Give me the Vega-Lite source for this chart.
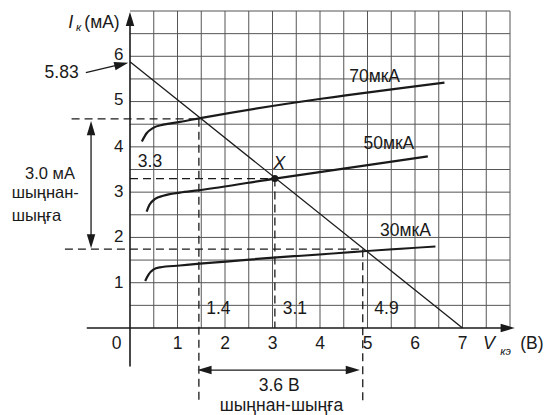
{
  "$schema": "https://vega.github.io/schema/vega-lite/v6.json",
  "width": 380,
  "height": 317,
  "autosize": "none",
  "padding": {"left": 130, "top": 11, "right": 36, "bottom": 87},
  "background": "white",
  "config": {"view": {"stroke": null}, "axis": {"disable": true}, "text": {"font": "Liberation Sans", "color": "#1a1a1a"}},
  "datasets": {
    "gv": [{"x":0.5},{"x":1},{"x":1.5},{"x":2},{"x":2.5},{"x":3},{"x":3.5},{"x":4},{"x":4.5},{"x":5},{"x":5.5},{"x":6},{"x":6.5},{"x":7},{"x":7.5},{"x":8}],
    "gh": [{"y":0.5},{"y":1},{"y":1.5},{"y":2},{"y":2.5},{"y":3},{"y":3.5},{"y":4},{"y":4.5},{"y":5},{"y":5.5},{"y":6},{"y":6.5},{"y":7}],
    "segs": [
      {"kind":"axis","x":-0.91,"y":0,"x2":7.95,"y2":0},
      {"kind":"axis","x":0,"y":-0.85,"x2":0,"y2":6.8},
      {"kind":"load","x":0,"y":5.88,"x2":7,"y2":0},
      {"kind":"dash","x":-1.23,"y":4.62,"x2":1.45,"y2":4.62},
      {"kind":"dash","x":1.45,"y":4.62,"x2":1.45,"y2":-1.62},
      {"kind":"dash","x":0,"y":3.3,"x2":3.05,"y2":3.3},
      {"kind":"dash","x":3.05,"y":3.3,"x2":3.05,"y2":0},
      {"kind":"dash","x":-1.37,"y":1.74,"x2":4.9,"y2":1.74},
      {"kind":"dash","x":4.9,"y":1.74,"x2":4.9,"y2":-1.62},
      {"kind":"arrow","x":-0.82,"y":4.45,"x2":-0.82,"y2":1.87},
      {"kind":"arrow","x":1.55,"y":-0.93,"x2":4.7,"y2":-0.93},
      {"kind":"arrow","x":-0.93,"y":5.64,"x2":-0.2,"y2":5.82}
    ],
    "heads": [
      {"dir":"up","x":0,"y":6.98},
      {"dir":"right","x":8.1,"y":0},
      {"dir":"diag","x":-0.036,"y":5.86},
      {"dir":"up","x":-0.82,"y":4.57},
      {"dir":"down","x":-0.82,"y":1.76},
      {"dir":"left","x":1.42,"y":-0.93},
      {"dir":"right","x":4.84,"y":-0.93}
    ],
    "curves": [
      {"s":"70","x":0.25,"y":4.12},{"s":"70","x":0.35,"y":4.3},{"s":"70","x":0.49,"y":4.42},{"s":"70","x":0.7,"y":4.49},{"s":"70","x":1.05,"y":4.55},{"s":"70","x":1.51,"y":4.64},{"s":"70","x":6.62,"y":5.42},
      {"s":"50","x":0.35,"y":2.57},{"s":"50","x":0.41,"y":2.72},{"s":"50","x":0.53,"y":2.85},{"s":"50","x":0.7,"y":2.92},{"s":"50","x":1.05,"y":2.99},{"s":"50","x":1.44,"y":3.04},{"s":"50","x":3.05,"y":3.3},{"s":"50","x":6.27,"y":3.79},
      {"s":"30","x":0.32,"y":1.04},{"s":"30","x":0.39,"y":1.18},{"s":"30","x":0.49,"y":1.29},{"s":"30","x":0.63,"y":1.34},{"s":"30","x":1.05,"y":1.38},{"s":"30","x":1.47,"y":1.42},{"s":"30","x":6.43,"y":1.8}
    ],
    "pt": [{"x":3.05,"y":3.3}],
    "texts": [
      {"role":"ylab","t":"1","x":-0.14,"y":1},
      {"role":"ylab","t":"2","x":-0.14,"y":2},
      {"role":"ylab","t":"3","x":-0.14,"y":3},
      {"role":"ylab","t":"4","x":-0.14,"y":4},
      {"role":"ylab","t":"5","x":-0.14,"y":5.04},
      {"role":"ylab","t":"6","x":-0.14,"y":6.03},
      {"role":"xlab","t":"0","x":-0.28,"y":-0.36},
      {"role":"xlab","t":"1","x":1,"y":-0.36},
      {"role":"xlab","t":"2","x":2,"y":-0.36},
      {"role":"xlab","t":"3","x":3,"y":-0.36},
      {"role":"xlab","t":"4","x":4,"y":-0.36},
      {"role":"xlab","t":"5","x":5,"y":-0.36},
      {"role":"xlab","t":"6","x":6,"y":-0.36},
      {"role":"xlab","t":"7","x":7,"y":-0.36},
      {"role":"note","t":"5.83","x":-1.44,"y":5.63},
      {"role":"note","t":"70мкА","x":5.15,"y":5.54},
      {"role":"note","t":"50мкА","x":5.45,"y":4.07},
      {"role":"note","t":"30мкА","x":5.8,"y":2.15},
      {"role":"note","t":"3.3","x":0.42,"y":3.67},
      {"role":"note","t":"1.4","x":1.86,"y":0.43},
      {"role":"note","t":"3.1","x":3.47,"y":0.43},
      {"role":"note","t":"4.9","x":5.4,"y":0.43},
      {"role":"note","t":"3.6 В","x":3.14,"y":-1.29},
      {"role":"note","t":"шыңнан-шыңға","x":3.19,"y":-1.73},
      {"role":"note","t":"(мА)","x":-0.59,"y":6.73},
      {"role":"note","t":"(В)","x":8.46,"y":-0.35},
      {"role":"left","t":"3.0 мА","x":-2.21,"y":3.39},
      {"role":"left","t":"шыңнан-","x":-2.49,"y":2.99},
      {"role":"left","t":"шыңға","x":-2.49,"y":2.47}
    ],
    "itexts": [
      {"role":"ital","t":"I","x":-1.25,"y":6.73},
      {"role":"ital","t":"V","x":7.56,"y":-0.35},
      {"role":"ital","t":"X","x":3.14,"y":3.63},
      {"role":"sub","t":"к","x":-1.08,"y":6.62},
      {"role":"sub","t":"кэ","x":7.905,"y":-0.52}
    ]
  },
  "layer": [
    {
      "data": {"name": "gv"},
      "mark": {"type": "rule", "stroke": "#555555", "strokeWidth": 1},
      "encoding": {
        "x": {"field": "x", "type": "quantitative", "scale": {"domain": [0, 8], "nice": false, "zero": false}},
        "y": {"datum": 0, "type": "quantitative", "scale": {"domain": [0, 7], "nice": false, "zero": false}},
        "y2": {"datum": 7}
      }
    },
    {
      "data": {"name": "gh"},
      "mark": {"type": "rule", "stroke": "#555555", "strokeWidth": 1},
      "encoding": {
        "y": {"field": "y", "type": "quantitative", "scale": {"domain": [0, 7], "nice": false, "zero": false}},
        "x": {"datum": 0, "type": "quantitative", "scale": {"domain": [0, 8], "nice": false, "zero": false}},
        "x2": {"datum": 8}
      }
    },
    {
      "data": {"name": "segs"},
      "transform": [{"filter": "datum.kind === 'axis'"}],
      "mark": {"type": "rule", "stroke": "#1a1a1a", "strokeWidth": 1.6},
      "encoding": {
        "x": {"field": "x", "type": "quantitative", "scale": {"domain": [0, 8], "nice": false, "zero": false}},
        "y": {"field": "y", "type": "quantitative", "scale": {"domain": [0, 7], "nice": false, "zero": false}},
        "x2": {"field": "x2"}, "y2": {"field": "y2"}
      }
    },
    {
      "data": {"name": "segs"},
      "transform": [{"filter": "datum.kind === 'load' || datum.kind === 'arrow'"}],
      "mark": {"type": "rule", "stroke": "#1a1a1a", "strokeWidth": 1.3},
      "encoding": {
        "x": {"field": "x", "type": "quantitative", "scale": {"domain": [0, 8], "nice": false, "zero": false}},
        "y": {"field": "y", "type": "quantitative", "scale": {"domain": [0, 7], "nice": false, "zero": false}},
        "x2": {"field": "x2"}, "y2": {"field": "y2"}
      }
    },
    {
      "data": {"name": "segs"},
      "transform": [{"filter": "datum.kind === 'dash'"}],
      "mark": {"type": "rule", "stroke": "#1a1a1a", "strokeWidth": 1.3, "strokeDash": [8, 5]},
      "encoding": {
        "x": {"field": "x", "type": "quantitative", "scale": {"domain": [0, 8], "nice": false, "zero": false}},
        "y": {"field": "y", "type": "quantitative", "scale": {"domain": [0, 7], "nice": false, "zero": false}},
        "x2": {"field": "x2"}, "y2": {"field": "y2"}
      }
    },
    {
      "data": {"name": "curves"},
      "mark": {"type": "line", "stroke": "#1a1a1a", "strokeWidth": 2.2, "interpolate": "monotone"},
      "encoding": {
        "x": {"field": "x", "type": "quantitative", "scale": {"domain": [0, 8], "nice": false, "zero": false}},
        "y": {"field": "y", "type": "quantitative", "scale": {"domain": [0, 7], "nice": false, "zero": false}},
        "detail": {"field": "s", "type": "nominal"}
      }
    },
    {
      "data": {"name": "heads"},
      "transform": [{"filter": "datum.dir === 'right'"}],
      "mark": {"type": "point", "shape": "M0,0L-2,-0.6L-2,0.6Z", "filled": true, "fill": "#1a1a1a", "strokeWidth": 0, "size": 200, "opacity": 1, "angle": 0},
      "encoding": {
        "x": {"field": "x", "type": "quantitative", "scale": {"domain": [0, 8], "nice": false, "zero": false}},
        "y": {"field": "y", "type": "quantitative", "scale": {"domain": [0, 7], "nice": false, "zero": false}}
      }
    },
    {
      "data": {"name": "heads"},
      "transform": [{"filter": "datum.dir === 'left'"}],
      "mark": {"type": "point", "shape": "M0,0L-2,-0.6L-2,0.6Z", "filled": true, "fill": "#1a1a1a", "strokeWidth": 0, "size": 200, "opacity": 1, "angle": 180},
      "encoding": {
        "x": {"field": "x", "type": "quantitative", "scale": {"domain": [0, 8], "nice": false, "zero": false}},
        "y": {"field": "y", "type": "quantitative", "scale": {"domain": [0, 7], "nice": false, "zero": false}}
      }
    },
    {
      "data": {"name": "heads"},
      "transform": [{"filter": "datum.dir === 'up'"}],
      "mark": {"type": "point", "shape": "M0,0L-2,-0.6L-2,0.6Z", "filled": true, "fill": "#1a1a1a", "strokeWidth": 0, "size": 200, "opacity": 1, "angle": 270},
      "encoding": {
        "x": {"field": "x", "type": "quantitative", "scale": {"domain": [0, 8], "nice": false, "zero": false}},
        "y": {"field": "y", "type": "quantitative", "scale": {"domain": [0, 7], "nice": false, "zero": false}}
      }
    },
    {
      "data": {"name": "heads"},
      "transform": [{"filter": "datum.dir === 'down'"}],
      "mark": {"type": "point", "shape": "M0,0L-2,-0.6L-2,0.6Z", "filled": true, "fill": "#1a1a1a", "strokeWidth": 0, "size": 200, "opacity": 1, "angle": 90},
      "encoding": {
        "x": {"field": "x", "type": "quantitative", "scale": {"domain": [0, 8], "nice": false, "zero": false}},
        "y": {"field": "y", "type": "quantitative", "scale": {"domain": [0, 7], "nice": false, "zero": false}}
      }
    },
    {
      "data": {"name": "heads"},
      "transform": [{"filter": "datum.dir === 'diag'"}],
      "mark": {"type": "point", "shape": "M0,0L-2,-0.6L-2,0.6Z", "filled": true, "fill": "#1a1a1a", "strokeWidth": 0, "size": 200, "opacity": 1, "angle": 346},
      "encoding": {
        "x": {"field": "x", "type": "quantitative", "scale": {"domain": [0, 8], "nice": false, "zero": false}},
        "y": {"field": "y", "type": "quantitative", "scale": {"domain": [0, 7], "nice": false, "zero": false}}
      }
    },
    {
      "data": {"name": "pt"},
      "mark": {"type": "circle", "fill": "#1a1a1a", "size": 50, "opacity": 1},
      "encoding": {
        "x": {"field": "x", "type": "quantitative", "scale": {"domain": [0, 8], "nice": false, "zero": false}},
        "y": {"field": "y", "type": "quantitative", "scale": {"domain": [0, 7], "nice": false, "zero": false}}
      }
    },
    {
      "data": {"name": "texts"},
      "transform": [{"filter": "datum.role === 'ylab'"}],
      "mark": {"type": "text", "fontSize": 17, "align": "right", "baseline": "middle"},
      "encoding": {
        "x": {"field": "x", "type": "quantitative", "scale": {"domain": [0, 8], "nice": false, "zero": false}},
        "y": {"field": "y", "type": "quantitative", "scale": {"domain": [0, 7], "nice": false, "zero": false}},
        "text": {"field": "t"}
      }
    },
    {
      "data": {"name": "texts"},
      "transform": [{"filter": "datum.role === 'xlab' || datum.role === 'note'"}],
      "mark": {"type": "text", "fontSize": 17.5, "align": "center", "baseline": "middle"},
      "encoding": {
        "x": {"field": "x", "type": "quantitative", "scale": {"domain": [0, 8], "nice": false, "zero": false}},
        "y": {"field": "y", "type": "quantitative", "scale": {"domain": [0, 7], "nice": false, "zero": false}},
        "text": {"field": "t"}
      }
    },
    {
      "data": {"name": "texts"},
      "transform": [{"filter": "datum.role === 'left'"}],
      "mark": {"type": "text", "fontSize": 16.5, "align": "left", "baseline": "middle"},
      "encoding": {
        "x": {"field": "x", "type": "quantitative", "scale": {"domain": [0, 8], "nice": false, "zero": false}},
        "y": {"field": "y", "type": "quantitative", "scale": {"domain": [0, 7], "nice": false, "zero": false}},
        "text": {"field": "t"}
      }
    },
    {
      "data": {"name": "itexts"},
      "transform": [{"filter": "datum.role === 'ital'"}],
      "mark": {"type": "text", "fontSize": 18, "fontStyle": "italic", "align": "center", "baseline": "middle"},
      "encoding": {
        "x": {"field": "x", "type": "quantitative", "scale": {"domain": [0, 8], "nice": false, "zero": false}},
        "y": {"field": "y", "type": "quantitative", "scale": {"domain": [0, 7], "nice": false, "zero": false}},
        "text": {"field": "t"}
      }
    },
    {
      "data": {"name": "itexts"},
      "transform": [{"filter": "datum.role === 'sub'"}],
      "mark": {"type": "text", "fontSize": 11, "fontStyle": "italic", "align": "center", "baseline": "middle"},
      "encoding": {
        "x": {"field": "x", "type": "quantitative", "scale": {"domain": [0, 8], "nice": false, "zero": false}},
        "y": {"field": "y", "type": "quantitative", "scale": {"domain": [0, 7], "nice": false, "zero": false}},
        "text": {"field": "t"}
      }
    }
  ]
}
